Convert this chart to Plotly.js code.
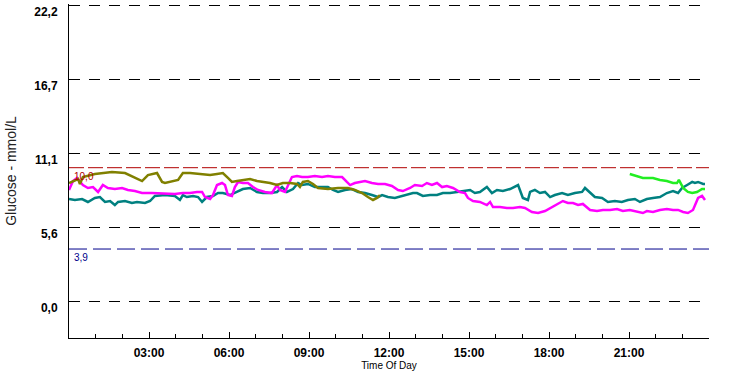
<!DOCTYPE html>
<html>
<head>
<meta charset="utf-8">
<script src="https://cdn.plot.ly/plotly-3.0.1.min.js"></script>
<style>html,body{margin:0;padding:0;background:#fff;}#chart{width:735px;height:377px;}</style>
</head>
<body>
<div id="chart"></div>
<script>
// Time of day in hours, glucose in mmol/L
var oliveT = [0.0,0.15,0.34,0.41,0.52,0.97,1.61,2.10,2.47,2.74,2.96,3.30,3.49,3.60,4.09,4.27,4.54,4.91,5.29,5.55,5.77,5.96,6.11,6.30,6.52,6.79,7.05,7.27,7.54,7.80,8.02,8.29,8.55,8.66,8.77,8.96,9.15,9.34,9.71,10.09,10.46,10.72,10.99,11.21,11.40,11.55,11.66];
var oliveV = [8.85,9.00,9.15,8.78,9.30,9.53,9.68,9.60,9.23,9.00,9.45,9.60,8.93,8.85,9.08,9.60,9.60,9.53,9.45,9.53,9.60,9.23,8.93,9.00,9.08,9.15,9.00,8.93,8.85,8.70,8.85,8.85,8.78,8.55,8.93,9.00,8.78,8.48,8.40,8.48,8.48,8.33,8.10,7.80,7.58,7.73,7.95];

var tealT = [0.0,0.22,0.49,0.71,0.97,1.16,1.35,1.54,1.72,1.84,2.10,2.36,2.55,2.85,3.04,3.22,3.60,3.97,4.16,4.27,4.42,4.65,4.84,4.99,5.17,5.40,5.59,5.77,6.04,6.30,6.52,6.79,7.05,7.27,7.54,7.80,7.99,8.17,8.40,8.59,8.74,8.96,9.22,9.49,9.71,9.90,10.09,10.35,10.61,10.84,11.10,11.36,11.59,11.74,11.96,12.22,12.49,12.71,12.90,13.05,13.27,13.54,13.80,14.02,14.29,14.55,14.77,15.04,15.22,15.41,15.67,15.86,16.05,16.27,16.54,16.72,16.84,17.02,17.21,17.29,17.47,17.66,17.85,18.04,18.22,18.49,18.71,18.97,19.24,19.35,19.54,19.72,19.99,20.21,20.47,20.73,20.96,21.22,21.41,21.67,21.90,22.16,22.42,22.65,22.84,22.99,23.18,23.37,23.47,23.59,23.78,23.85];
var tealV = [7.65,7.58,7.65,7.43,7.73,7.80,7.43,7.50,7.20,7.43,7.50,7.35,7.43,7.35,7.50,7.88,7.95,7.88,7.58,7.95,7.80,7.88,7.80,7.43,7.80,7.88,8.10,8.10,7.95,8.18,8.40,8.48,8.18,8.10,8.10,8.18,8.55,8.18,8.40,8.85,8.70,8.78,8.55,8.55,8.55,8.33,8.18,8.33,8.40,8.18,8.10,7.95,7.80,7.95,7.80,7.73,7.88,7.95,8.10,8.10,7.88,7.95,7.95,8.10,8.10,8.18,8.25,8.33,8.10,8.18,8.55,8.10,8.33,8.25,8.40,8.55,8.70,7.73,7.58,8.18,8.33,8.10,8.18,7.80,7.95,8.10,7.95,8.10,8.18,8.48,8.10,7.80,7.73,7.43,7.50,7.43,7.58,7.65,7.43,7.65,7.73,7.80,8.10,8.25,8.10,8.48,8.70,8.93,8.85,8.93,8.78,8.78];

var magT = [0.0,0.04,0.15,0.30,0.41,0.52,0.71,0.90,1.09,1.27,1.46,1.72,1.99,2.21,2.47,2.74,3.11,3.60,3.97,4.27,4.54,4.80,4.99,5.10,5.29,5.40,5.55,5.74,5.85,5.96,6.11,6.22,6.34,6.52,6.71,6.90,7.09,7.35,7.61,7.80,7.91,8.10,8.21,8.36,8.55,8.74,8.96,9.22,9.49,9.71,9.97,10.24,10.42,10.54,10.72,10.91,11.10,11.36,11.59,11.85,12.11,12.34,12.52,12.79,12.97,13.24,13.42,13.61,13.80,13.99,14.17,14.40,14.66,14.85,14.96,15.15,15.41,15.67,15.79,15.90,16.16,16.42,16.65,16.91,17.10,17.36,17.59,17.85,18.11,18.34,18.52,18.71,18.90,19.09,19.27,19.54,19.80,20.02,20.29,20.55,20.77,21.03,21.33,21.52,21.67,21.90,22.16,22.42,22.65,22.84,23.03,23.21,23.40,23.59,23.74,23.85];
var magV = [8.33,8.55,9.00,9.23,8.93,8.70,8.48,8.55,8.18,8.70,8.48,8.40,8.48,8.33,8.25,8.10,8.10,8.03,8.03,8.10,8.10,8.18,8.18,7.80,7.65,7.95,8.70,8.85,8.70,7.95,7.88,8.55,8.93,8.85,8.85,8.55,8.33,8.18,8.10,8.70,8.33,8.18,8.70,9.30,9.38,9.30,9.30,9.38,9.30,9.38,9.30,9.30,8.93,8.70,8.85,8.93,9.00,8.85,8.78,8.78,8.63,8.33,8.25,8.48,8.70,8.63,8.85,8.70,8.85,8.55,8.63,8.48,8.18,8.10,7.73,7.50,7.43,7.20,7.43,7.05,7.05,6.98,6.98,7.05,6.98,6.68,6.60,6.75,7.05,7.35,7.50,7.35,7.35,7.20,7.28,6.83,6.75,6.83,6.83,6.90,6.75,6.83,6.68,6.60,6.75,6.68,6.83,6.90,6.83,6.83,6.68,6.60,6.83,7.73,7.88,7.58];

var greenT = [21.03,21.30,21.52,21.90,22.16,22.42,22.65,22.80,22.87,23.03,23.21,23.37,23.55,23.74,23.85];
var greenV = [9.53,9.38,9.23,9.23,9.08,9.00,8.85,8.85,9.08,8.48,8.18,8.10,8.18,8.40,8.40];

var yTickVals = [0, 5.55, 11.1, 16.65, 22.2];
var yTickText = ["0,0", "5,6", "11,1", "16,7", "22,2"];
var xTickVals = [3, 6, 9, 12, 15, 18, 21];
var xTickText = ["03:00", "06:00", "09:00", "12:00", "15:00", "18:00", "21:00"];
var xMinorVals = [1, 2, 4, 5, 7, 8, 10, 11, 13, 14, 16, 17, 19, 20, 22, 23];
var targetVals = [10.0, 3.9];
var targetText = ["10,0", "3,9"];

var FONT = "Liberation Sans, Arial, sans-serif";

function tr(x, y, c) {
  return {x: x, y: y, type: 'scatter', mode: 'lines', line: {color: c, width: 2.5}, hoverinfo: 'skip', showlegend: false};
}

var data = [
  tr(tealT, tealV, '#008080'),
  tr(magT, magV, '#ff00ff'),
  tr(oliveT, oliveV, '#808000'),
  tr(greenT, greenV, '#22ee22')
];

var layout = {
  width: 735, height: 377,
  margin: {l: 69, r: 26, t: 4, b: 39, pad: 0},
  paper_bgcolor: '#ffffff', plot_bgcolor: '#ffffff',
  font: {family: FONT, color: '#000'},
  showlegend: false,
  xaxis: {
    range: [0, 24], fixedrange: true,
    showline: true, linecolor: '#000', linewidth: 1,
    showgrid: false, zeroline: false,
    tickvals: xTickVals, ticktext: xTickText,
    ticks: 'inside', ticklen: 6, tickcolor: '#000', tickwidth: 1,
    tickfont: {size: 12, family: FONT, weight: 'bold', color: '#000'},
    ticklabelstandoff: 4,
    minor: {tickvals: xMinorVals, ticks: 'inside', ticklen: 4, tickcolor: '#000', tickwidth: 1, showgrid: false},
    title: {text: 'Time Of Day', font: {size: 10, family: FONT, color: '#000'}, standoff: 2},
    automargin: false
  },
  yaxis: {
    range: [-2.775, 22.28], fixedrange: true,
    showline: true, linecolor: '#000', linewidth: 1,
    showgrid: true, gridcolor: '#000', gridwidth: 1, griddash: '11px,9px',
    zeroline: false,
    tickvals: yTickVals, ticktext: yTickText,
    ticks: '',
    tickfont: {size: 12, family: FONT, weight: 'bold', color: '#000'},
    ticklabelstandoff: 8, ticklabelshift: 7,
    title: {text: 'Glucose - mmol/L', font: {size: 14, family: FONT, color: '#222'}, standoff: 14},
    automargin: false
  },
  shapes: [
    {type: 'line', xref: 'paper', yref: 'y', x0: 0, x1: 1, y0: targetVals[0], y1: targetVals[0], line: {color: '#b00000', width: 1, dash: '15px,4px'}, layer: 'below'},
    {type: 'line', xref: 'paper', yref: 'y', x0: 0, x1: 1, y0: targetVals[1], y1: targetVals[1], line: {color: '#00008b', width: 1, dash: '18px,6px'}, layer: 'below'}
  ],
  annotations: [
    {xref: 'paper', yref: 'y', x: 0.005, y: targetVals[0], text: targetText[0], showarrow: false, xanchor: 'left', yanchor: 'top', yshift: -1, font: {size: 10, family: FONT, color: '#b00000'}},
    {xref: 'paper', yref: 'y', x: 0.005, y: targetVals[1], text: targetText[1], showarrow: false, xanchor: 'left', yanchor: 'top', yshift: -1, font: {size: 10, family: FONT, color: '#00008b'}}
  ]
};

Plotly.newPlot('chart', data, layout, {staticPlot: true, displayModeBar: false});
</script>
</body>
</html>
